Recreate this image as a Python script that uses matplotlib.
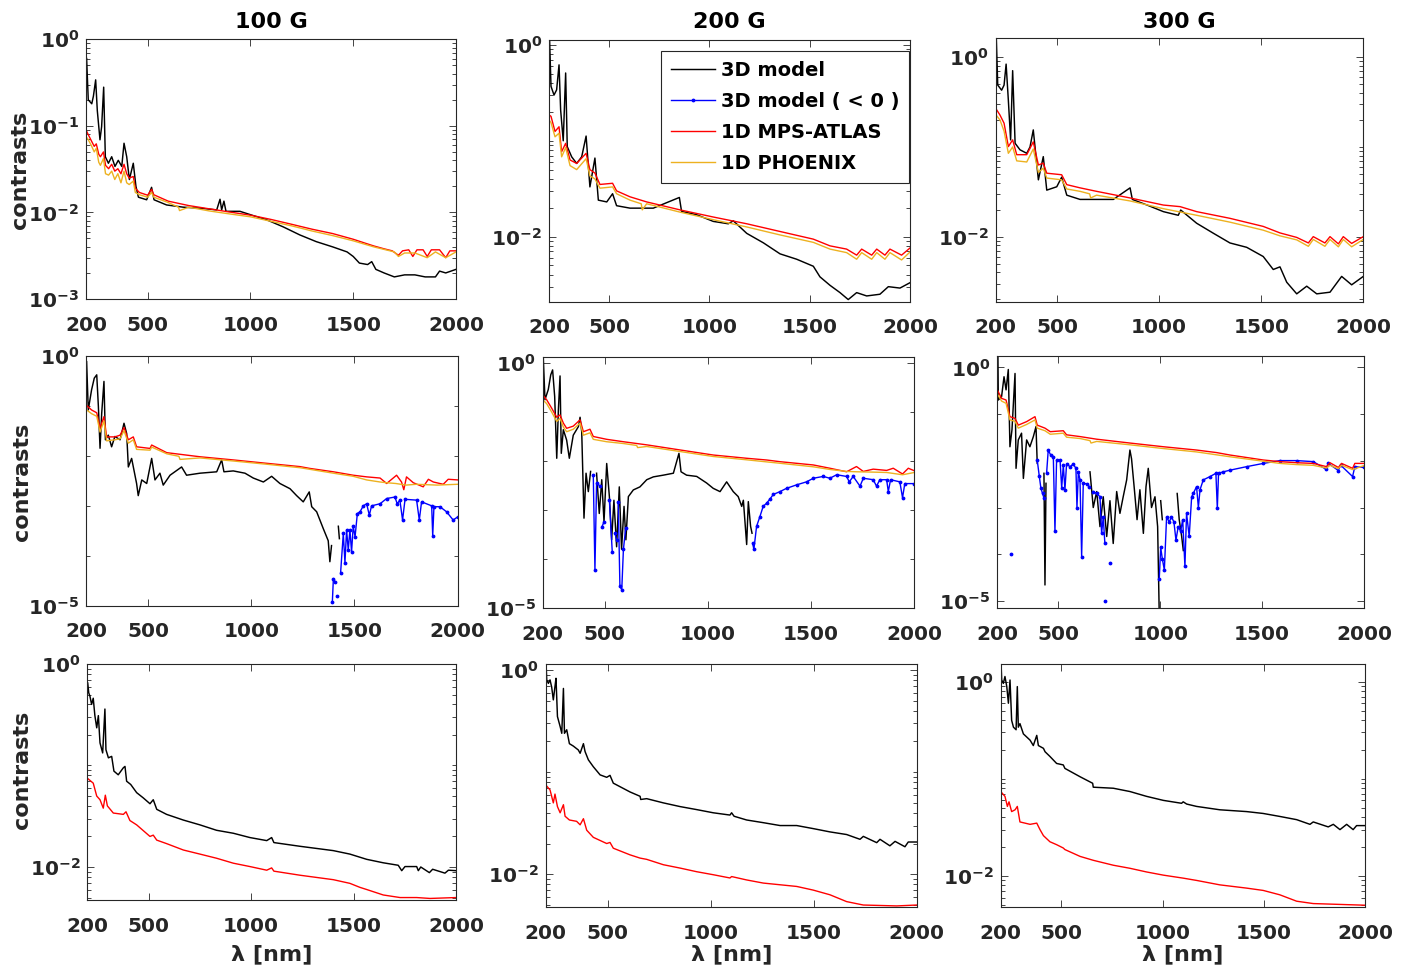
import numpy as np
import matplotlib
matplotlib.use("Agg")
import matplotlib.pyplot as plt
from matplotlib.lines import Line2D
from matplotlib.ticker import FixedLocator, FixedFormatter, LogLocator, NullFormatter

nan = np.nan

# ---- data: wavelength [nm] and contrast ----------------------------------
# row 1 (disc centre), 100 G
WL_1K = [203, 211, 228, 236, 247, 255, 268, 276, 286, 294, 309, 325, 341, 357, 374, 385, 398, 411, 430, 443,
         455, 495, 519, 531, 592, 673, 755, 836, 852, 860, 871, 881, 949, 1001, 1080, 1160, 1240, 1320, 1400, 1470,
         1500, 1530, 1570, 1590, 1610, 1650, 1700, 1750, 1800, 1850, 1900, 1920, 1950, 2000]
C_1K = [0.60, 0.20, 0.18, 0.22, 0.34, 0.15, 0.069, 0.098, 0.28, 0.044, 0.037, 0.044, 0.034, 0.040, 0.034, 0.063,
        0.044, 0.024, 0.037, 0.020, 0.015, 0.014, 0.0195, 0.014, 0.0122, 0.0115, 0.0112, 0.0107, 0.0142, 0.0107,
        0.0135, 0.0103, 0.0103, 0.0094, 0.0082, 0.0068, 0.0055, 0.0046, 0.0040, 0.0035, 0.0031, 0.0026, 0.0025,
        0.0027, 0.0022, 0.0020, 0.0018, 0.0019, 0.0019, 0.0018, 0.0018, 0.0021, 0.0020, 0.0022]
WL_1R = [200, 210, 225, 240, 250, 262, 270, 285, 295, 310, 325, 340, 355, 370, 385, 398, 410, 430, 440, 460,
         500, 519, 530, 600, 700, 800, 900, 1000, 1100, 1200, 1300, 1400, 1500, 1560, 1600, 1650, 1690, 1720, 1740,
         1770, 1790, 1810, 1840, 1860, 1880, 1920, 1950, 1970, 2000]
C_1R = [0.090, 0.080, 0.068, 0.058, 0.062, 0.047, 0.044, 0.050, 0.035, 0.032, 0.036, 0.030, 0.032, 0.028, 0.036,
        0.028, 0.025, 0.026, 0.019, 0.017, 0.0158, 0.0185, 0.016, 0.0135, 0.012, 0.011, 0.0101, 0.0093, 0.0083,
        0.0073, 0.0064, 0.0057, 0.0049, 0.0044, 0.0041, 0.0038, 0.0036, 0.0032, 0.0036, 0.0037, 0.0031, 0.0037,
        0.0037, 0.0031, 0.0037, 0.0037, 0.0030, 0.0036, 0.0036]
WL_1O = [200, 210, 225, 240, 250, 262, 270, 285, 295, 310, 325, 340, 355, 370, 385, 398, 410, 430, 440, 460,
         500, 519, 530, 600, 650, 655, 700, 800, 900, 1000, 1100, 1200, 1300, 1400, 1500, 1600, 1700, 1720, 1750,
         1800, 1860, 1900, 1950, 2000]
C_1O = [0.075, 0.070, 0.060, 0.050, 0.055, 0.038, 0.035, 0.042, 0.028, 0.027, 0.030, 0.024, 0.028, 0.022, 0.030,
        0.022, 0.021, 0.023, 0.017, 0.016, 0.015, 0.017, 0.015, 0.013, 0.0115, 0.0105, 0.0115, 0.0104, 0.0096,
        0.0089, 0.0079, 0.0070, 0.0061, 0.0054, 0.0047, 0.0040, 0.0035, 0.0031, 0.0034, 0.0034, 0.0030, 0.0035,
        0.0030, 0.0035]

# row 1, 200 G
WL_2K = [203, 210, 225, 238, 250, 258, 271, 283, 291, 313, 338, 363, 385, 404, 429, 446, 488, 517, 537, 604,
         720, 850, 861, 936, 1019, 1094, 1119, 1186, 1269, 1352, 1435, 1518, 1551, 1601, 1651, 1692, 1734, 1784,
         1850, 1892, 1950, 2000]
C_2K = [1.12, 0.37, 0.30, 0.34, 0.62, 0.21, 0.10, 0.51, 0.087, 0.068, 0.058, 0.068, 0.112, 0.033, 0.066, 0.024,
        0.023, 0.028, 0.021, 0.0198, 0.0198, 0.0256, 0.0183, 0.0169, 0.0144, 0.0136, 0.0146, 0.0108, 0.0086,
        0.0066, 0.0058, 0.0049, 0.0038, 0.0031, 0.0026, 0.0022, 0.0026, 0.0024, 0.0025, 0.0030, 0.0029, 0.0033]
WL_2R = [200, 210, 230, 250, 263, 283, 305, 338, 385, 404, 429, 454, 517, 537, 604, 687, 853, 1019, 1186, 1352,
         1518, 1601, 1684, 1734, 1759, 1809, 1834, 1875, 1900, 1958, 2000]
C_2R = [0.186, 0.18, 0.125, 0.14, 0.077, 0.094, 0.063, 0.058, 0.074, 0.050, 0.046, 0.035, 0.036, 0.030, 0.026,
        0.023, 0.019, 0.016, 0.0136, 0.0113, 0.0094, 0.0080, 0.0074, 0.0064, 0.0074, 0.0064, 0.0074, 0.0064,
        0.0074, 0.0064, 0.0076]
WL_2O = [200, 210, 230, 250, 263, 283, 305, 338, 385, 404, 429, 454, 517, 537, 604, 660, 665, 687, 853, 1019,
         1186, 1352, 1518, 1601, 1684, 1734, 1759, 1809, 1834, 1875, 1900, 1958, 2000]
C_2O = [0.165, 0.155, 0.11, 0.12, 0.068, 0.085, 0.055, 0.050, 0.065, 0.043, 0.040, 0.032, 0.033, 0.028, 0.024,
        0.022, 0.019, 0.022, 0.018, 0.015, 0.0126, 0.0104, 0.0087, 0.0074, 0.0068, 0.0058, 0.0068, 0.0058, 0.0068,
        0.0058, 0.0068, 0.0057, 0.0069]

# row 1, 300 G
WL_3K = [203, 210, 229, 241, 251, 262, 273, 283, 295, 319, 352, 368, 384, 409, 433, 450, 499, 523, 548, 613,
         776, 858, 869, 939, 1021, 1094, 1106, 1184, 1266, 1347, 1429, 1510, 1559, 1592, 1625, 1674, 1723, 1772,
         1837, 1894, 1943, 2000]
C_3K = [1.63, 0.49, 0.43, 0.49, 0.84, 0.33, 0.12, 0.71, 0.11, 0.093, 0.085, 0.10, 0.155, 0.043, 0.078, 0.033,
        0.036, 0.046, 0.029, 0.026, 0.026, 0.035, 0.026, 0.0226, 0.019, 0.0173, 0.0198, 0.0141, 0.0109, 0.0085,
        0.0076, 0.0060, 0.0043, 0.0046, 0.0031, 0.0023, 0.0028, 0.0023, 0.0024, 0.0036, 0.0029, 0.0036]
WL_3R = [200, 221, 241, 262, 283, 303, 352, 384, 409, 433, 450, 523, 548, 613, 694, 858, 1021, 1103, 1184, 1347,
         1510, 1592, 1674, 1731, 1755, 1812, 1837, 1878, 1902, 1943, 2000]
C_3R = [0.27, 0.227, 0.184, 0.101, 0.12, 0.082, 0.082, 0.114, 0.063, 0.066, 0.051, 0.049, 0.038, 0.035, 0.032,
        0.027, 0.0225, 0.0216, 0.019, 0.016, 0.013, 0.011, 0.0098, 0.0085, 0.010, 0.0085, 0.010, 0.0083, 0.010,
        0.0084, 0.010]
WL_3O = [200, 221, 241, 262, 283, 303, 352, 384, 409, 433, 450, 523, 548, 613, 660, 665, 694, 858, 1021, 1184,
         1347, 1510, 1592, 1674, 1731, 1755, 1812, 1837, 1878, 1902, 1943, 2000]
C_3O = [0.23, 0.20, 0.15, 0.085, 0.10, 0.070, 0.068, 0.095, 0.052, 0.058, 0.045, 0.043, 0.034, 0.032, 0.030,
        0.027, 0.029, 0.025, 0.0205, 0.0173, 0.0145, 0.0118, 0.0102, 0.0092, 0.0078, 0.0093, 0.0078, 0.0093,
        0.0077, 0.0093, 0.0077, 0.0093]

# row 2, 100 G  (blue = |negative contrast|)
WL_4K = [203, 211, 227, 240, 252, 260, 268, 276, 287, 294, 308, 324, 340, 365, 384, 397, 405, 421, 445, 453,
         470, 494, 518, 534, 558, 574, 607, 663, 687, 752, 833, 857, 868, 913, 970, 1010, 1059, 1099, 1139, 1188,
         1220, 1252, 1281, 1293, 1317, 1349, 1373, 1381, 1389, nan, 1422, 1427]
C_4K = [0.77, 0.083, 0.21, 0.36, 0.42, 0.097, 0.0142, 0.071, 0.31, 0.021, 0.026, 0.0152, 0.0245, 0.021, 0.045,
        0.028, 0.006, 0.0089, 0.0028, 0.0016, 0.0033, 0.0028, 0.0089, 0.0033, 0.0045, 0.0026, 0.0041, 0.006,
        0.0041, 0.0045, 0.0048, 0.0083, 0.0048, 0.005, 0.0045, 0.0036, 0.003, 0.0039, 0.0028, 0.0022, 0.0016,
        0.0012, 0.0019, 0.00096, 0.00076, 0.00035, 0.0002, 7.6e-5, 1.6e-4, nan, 3.9e-4, 2.2e-4]
WL_4B = [1393, 1398, 1406, nan, 1417, nan, 1433, 1446, 1454, 1462, 1470, 1478, 1486, 1494, 1503, 1514, 1527,
         1543, 1559, 1572, 1583, 1624, 1656, 1696, 1707, 1720, 1733, 1745, 1801, 1814, 1825, 1874, 1879, 1885,
         1914, 1946, 1978, 2000]
C_4B = [1.2e-5, 3.5e-5, 3.0e-5, nan, 1.6e-5, nan, 4.6e-5, 2.8e-4, 7.3e-5, 3.3e-4, 1.3e-4, 3.3e-4, 1.2e-4, 3.9e-4,
        2.4e-4, 7.0e-4, 7.6e-4, 1.0e-3, 1.1e-3, 6.5e-4, 1.0e-3, 1.1e-3, 1.4e-3, 1.5e-3, 1.1e-3, 1.3e-3, 5.2e-4,
        1.35e-3, 1.3e-3, 5.2e-4, 1.2e-3, 1.0e-3, 2.5e-4, 9.6e-4, 9.6e-4, 7.6e-4, 5.2e-4, 6.0e-4]
WL_4R = [200, 227, 252, 268, 287, 300, 340, 365, 384, 405, 429, 445, 510, 518, 591, 752, 913, 1075, 1236, 1285,
         1398, 1494, 1559, 1624, 1656, 1704, 1728, 1739, 1752, 1785, 1833, 1858, 1882, 1930, 1954, 2000]
C_4R = [0.105, 0.083, 0.073, 0.036, 0.061, 0.024, 0.024, 0.026, 0.037, 0.021, 0.024, 0.0152, 0.0141, 0.0165,
        0.0116, 0.0096, 0.0083, 0.0071, 0.0061, 0.0056, 0.0048, 0.0041, 0.0038, 0.0036, 0.0028, 0.0041, 0.0030,
        0.0021, 0.0038, 0.0029, 0.0024, 0.0034, 0.0030, 0.0027, 0.0034, 0.0033]
WL_4O = [200, 227, 252, 268, 287, 300, 340, 365, 384, 405, 429, 445, 510, 518, 591, 650, 655, 752, 913, 1075,
         1236, 1398, 1494, 1559, 1624, 1656, 1700, 1750, 1800, 1900, 2000]
C_4O = [0.085, 0.070, 0.062, 0.030, 0.050, 0.020, 0.021, 0.022, 0.032, 0.018, 0.021, 0.0135, 0.013, 0.015, 0.011,
        0.0098, 0.0085, 0.0091, 0.0079, 0.0068, 0.0058, 0.0045, 0.0039, 0.0033, 0.0030, 0.0029, 0.0028, 0.0026,
        0.0027, 0.0026, 0.0027]

# row 2, 200 G
WL_5K = [203, 211, 227, 239, 248, 258, 268, 276, 284, 290, 300, 316, 329, 348, 373, 381, 389, 400, 410, 421,
         432, nan, 461, 474, 486, 497, 510, 523, 534, 545, 558, 571, 582, 594, 603, 615, 639, 671, 704, 736,
         784, 833, 860, 870, 897, 946, 994, 1026, 1059, 1091, 1123, 1147, 1164, 1172, 1188, 1196, 1207, 1214]
C_5K = [1.26, 0.18, 0.29, 0.58, 0.73, 0.21, 0.0115, 0.112, 0.55, 0.0145, 0.044, 0.027, 0.0115, 0.034, 0.051,
        0.079, 0.040, 6.9e-4, 0.0057, 0.0024, 0.0062, nan, 0.0057, 8.6e-4, 0.0042, 5.8e-4, 0.009, 0.0019, 2.5e-4,
        0.0016, 1.8e-4, 0.0030, 1.6e-4, 0.0012, 2.5e-4, 0.0019, 0.0026, 0.0030, 0.0042, 0.0048, 0.0052, 0.0057,
        0.0145, 0.0061, 0.0052, 0.0049, 0.0036, 0.0028, 0.0024, 0.0038, 0.0024, 0.0019, 0.0012, 0.0016, 2.0e-4,
        0.0015, 4.7e-4, 3.4e-4]
WL_5B = [445, 453, 461, 478, nan, 487, 497, nan, 523, 537, nan, 550, 558, nan, 566, 574, 583, 591, 602, nan,
         1217, 1223, 1236, 1252, 1268, 1285, 1301, 1317, 1349, 1381, 1430, 1478, 1511, 1559, 1591, 1624, 1672,
         1685, 1704, 1737, 1753, 1801, 1817, 1833, 1866, 1874, 1885, 1930, 1943, 1954, 2000]
C_5B = [5.3e-3, 6.0e-5, 3.6e-3, 3.1e-3, nan, 4.6e-4, 5.8e-4, nan, 1.6e-3, 1.4e-4, nan, 3.4e-4, 2.5e-4, nan,
        1.5e-3, 2.8e-5, 2.4e-5, 1.6e-4, 4.3e-4, nan, 2.1e-4, 1.6e-4, 4.7e-4, 7.4e-4, 1.2e-3, 1.4e-3, 1.7e-3,
        2.1e-3, 2.4e-3, 2.8e-3, 3.3e-3, 3.8e-3, 4.5e-3, 4.9e-3, 4.5e-3, 5.3e-3, 4.9e-3, 3.8e-3, 4.9e-3, 3.1e-3,
        4.5e-3, 4.2e-3, 3.1e-3, 4.2e-3, 4.2e-3, 2.4e-3, 4.2e-3, 3.8e-3, 1.8e-3, 3.5e-3, 3.5e-3]
WL_5R = [200, 219, 244, 268, 284, 300, 316, 348, 381, 397, 429, 445, 510, 591, 704, 865, 1026, 1188, 1285, 1349,
         1511, 1591, 1672, 1720, 1753, 1801, 1866, 1898, 1943, 1971, 2000]
C_5R = [0.225, 0.18, 0.12, 0.079, 0.088, 0.060, 0.047, 0.052, 0.070, 0.040, 0.045, 0.032, 0.028, 0.025, 0.0216,
        0.017, 0.0134, 0.0115, 0.0106, 0.0098, 0.0084, 0.0072, 0.0061, 0.0078, 0.0062, 0.0069, 0.0065, 0.0072,
        0.0055, 0.0072, 0.0064]
WL_5O = [200, 219, 244, 268, 284, 300, 316, 348, 381, 397, 429, 445, 510, 591, 655, 660, 704, 865, 1026, 1188,
         1349, 1511, 1591, 1672, 1720, 1800, 1866, 1943, 2000]
C_5O = [0.18, 0.15, 0.10, 0.065, 0.075, 0.050, 0.040, 0.045, 0.060, 0.034, 0.038, 0.028, 0.025, 0.023, 0.021,
        0.019, 0.020, 0.0158, 0.0125, 0.0107, 0.0091, 0.0077, 0.0068, 0.0062, 0.0061, 0.0060, 0.0059, 0.0053,
        0.0059]

# row 2, 300 G
WL_6K = [203, 205, 221, 233, 243, 254, 262, 272, 287, 292, 303, 319, 328, 344, 360, 377, 390, 396, nan, 429,
         434, 439, nan, 655, 671, 688, 704, 720, 737, 753, 769, 786, 802, 818, 835, 851, 859, 873, 886, 900,
         917, 930, 941, 957, 974, 987, 995, nan, 1002, 1010, nan, 1083, 1093, 1105, 1113]
C_6K = [1.83, 0.20, 0.236, 0.63, 0.33, 0.90, 0.020, 0.046, 0.74, 0.0069, 0.028, 0.039, 0.0042, 0.028, 0.020,
        0.033, 0.054, 0.0088, nan, 5.4e-3, 2.2e-5, 3.3e-3, nan, 5.8e-3, 1.0e-3, 2.2e-3, 3.9e-4, 1.7e-3, 2.4e-4,
        1.4e-3, 1.7e-4, 2.2e-3, 7.5e-4, 1.7e-3, 3.9e-3, 0.017, 0.011, 2.4e-3, 5.5e-4, 2.4e-3, 2.8e-4, 2.8e-3,
        6.9e-3, 1.0e-3, 1.7e-3, 3.9e-4, 5e-6, nan, 1.4e-3, 5.5e-4, nan, 2.0e-3, 5.5e-4, 2.4e-4, 1.2e-4]
WL_6B = [267, nan, 396, 406, 414, 422, 429, nan, 442, 450, 462, 475, 483, 491, 508, 516, 524, 532, 540, 557,
         573, 586, 591, 598, 606, 614, 622, 638, 652, nan, 671, 688, 704, 712, 720, 728, nan, 728, nan, 753,
         nan, 995, 1002, 1010, 1020, 1031, 1044, 1055, 1067, 1077, 1088, 1100, 1110, 1121, 1129, 1142, 1154, 1162,
         1178, 1187, 1195, 1211, 1244, 1273, 1280, 1286, 1309, 1342, 1424, 1506, 1587, 1669, 1751, 1813, 1825,
         1874, 1885, 1944, 1955, 2000]
C_6B = [1.0e-4, nan, 0.0104, 4.7e-3, 2.6e-3, 2.0e-3, 1.6e-3, nan, 5.4e-3, 0.017, 0.0133, 0.0123, 3.1e-4, 0.0104,
        0.0104, 2.6e-3, 8.1e-3, 2.4e-3, 8.5e-3, 7.5e-3, 8.5e-3, 6.9e-3, 1.0e-3, 5.8e-3, 3.9e-3, 8.9e-5, 3.3e-3,
        3.2e-3, 2.8e-3, nan, 2.2e-3, 2.0e-3, 1.7e-3, 2.8e-4, 6.3e-4, 1.7e-4, nan, 1.0e-5, nan, 6.4e-5, nan,
        3.0e-5, 1.4e-4, 8.0e-5, 4.6e-5, 6.3e-4, 4.9e-4, 6.3e-4, 4.9e-4, 2.0e-4, 3.9e-4, 3.1e-4, 5.5e-4, 5.5e-5,
        7.5e-4, 2.4e-4, 1.7e-3, 2.0e-3, 2.8e-3, 1.0e-3, 2.4e-3, 3.9e-3, 4.6e-3, 5.4e-3, 9.6e-4, 5.4e-3, 5.8e-3,
        6.3e-3, 7.5e-3, 8.8e-3, 0.0101, 0.0101, 9.6e-3, 6.6e-3, 8.8e-3, 6.2e-3, 8.1e-3, 4.6e-3, 7.5e-3, 7.2e-3]
WL_6R = [200, 221, 243, 262, 287, 303, 344, 385, 396, 434, 460, 524, 540, 606, 688, 851, 1015, 1178, 1276, 1342,
         1506, 1587, 1669, 1751, 1816, 1833, 1874, 1890, 1944, 1955, 2000]
C_6R = [0.33, 0.217, 0.20, 0.088, 0.081, 0.058, 0.069, 0.088, 0.058, 0.050, 0.042, 0.044, 0.036, 0.033, 0.029,
        0.024, 0.020, 0.017, 0.015, 0.0133, 0.0104, 0.0096, 0.0091, 0.0088, 0.0075, 0.0091, 0.0072, 0.0088,
        0.0069, 0.0088, 0.0088]
WL_6O = [200, 221, 243, 262, 287, 303, 344, 385, 396, 434, 460, 524, 540, 606, 655, 660, 688, 851, 1015, 1178,
         1342, 1506, 1587, 1669, 1751, 1816, 1833, 1874, 1890, 1944, 2000]
C_6O = [0.27, 0.19, 0.17, 0.075, 0.070, 0.050, 0.060, 0.075, 0.050, 0.044, 0.037, 0.039, 0.032, 0.030, 0.027,
        0.024, 0.026, 0.022, 0.0183, 0.0155, 0.0122, 0.0098, 0.0088, 0.0083, 0.0080, 0.0070, 0.0080, 0.0068,
        0.0080, 0.0065, 0.0079]

# row 3, 100 G
WL_7K = [202, 207, 213, 221, 229, 237, 246, 254, 262, 275, 286, 291, 303, 319, 330, 351, 376, 384, 392, 412,
         441, 473, 506, 522, 539, 587, 669, 750, 831, 913, 994, 1076, 1100, 1111, 1238, 1401, 1482, 1564, 1645,
         1718, 1735, 1751, 1808, 1816, 1828, 1870, 1886, 1946, 1963, 2000]
C_7K = [0.65, 0.52, 0.48, 0.40, 0.46, 0.31, 0.235, 0.31, 0.167, 0.133, 0.36, 0.143, 0.119, 0.123, 0.088, 0.081,
        0.095, 0.098, 0.070, 0.065, 0.054, 0.048, 0.042, 0.046, 0.037, 0.033, 0.029, 0.026, 0.023, 0.0215, 0.0195,
        0.0182, 0.0195, 0.0174, 0.016, 0.0145, 0.0134, 0.0119, 0.011, 0.0104, 0.0092, 0.0101, 0.0101, 0.0092,
        0.010, 0.0088, 0.0095, 0.0087, 0.0093, 0.0092]
WL_7R = [200, 229, 246, 262, 278, 288, 298, 327, 376, 389, 408, 441, 506, 522, 539, 587, 669, 750, 831, 913,
         994, 1076, 1100, 1111, 1238, 1401, 1482, 1531, 1564, 1645, 1727, 1808, 1873, 2000]
C_7R = [0.075, 0.067, 0.050, 0.046, 0.038, 0.051, 0.040, 0.034, 0.033, 0.035, 0.0287, 0.026, 0.020, 0.0206,
        0.0184, 0.017, 0.0147, 0.0134, 0.0122, 0.0109, 0.0101, 0.0093, 0.0098, 0.0091, 0.0083, 0.0075, 0.0069,
        0.0063, 0.0060, 0.0053, 0.0050, 0.0050, 0.0049, 0.0050]

# row 3, 200 G
WL_8K = [202, 205, 213, 221, 229, 237, 245, 250, 257, 270, 278, 286, 291, 302, 315, 334, 358, 367, 383, 391,
         407, 431, 464, 496, 512, 528, 609, 658, 661, 690, 771, 852, 932, 1013, 1094, 1102, 1114, 1175, 1256, 1337,
         1418, 1498, 1579, 1660, 1725, 1741, 1806, 1822, 1870, 1895, 1943, 1959, 2000]
C_8K = [1.12, 0.80, 0.74, 0.80, 0.68, 0.51, 0.69, 0.83, 0.35, 0.28, 0.24, 0.66, 0.24, 0.26, 0.19, 0.18, 0.165,
        0.153, 0.19, 0.159, 0.132, 0.113, 0.094, 0.089, 0.093, 0.078, 0.064, 0.058, 0.054, 0.055, 0.050, 0.046,
        0.043, 0.040, 0.038, 0.040, 0.037, 0.034, 0.032, 0.030, 0.030, 0.028, 0.026, 0.0245, 0.022, 0.0235,
        0.0204, 0.022, 0.019, 0.021, 0.0186, 0.0207, 0.0207]
WL_8R = [200, 221, 237, 245, 257, 270, 286, 294, 315, 350, 367, 383, 399, 431, 496, 512, 528, 609, 658, 690,
         771, 852, 932, 1013, 1094, 1102, 1175, 1256, 1418, 1498, 1579, 1660, 1741, 1903, 2000]
C_8R = [0.075, 0.067, 0.050, 0.061, 0.046, 0.040, 0.048, 0.037, 0.034, 0.033, 0.0305, 0.035, 0.027, 0.023, 0.020,
        0.0205, 0.018, 0.0155, 0.0144, 0.014, 0.0124, 0.0115, 0.0106, 0.0099, 0.0092, 0.0095, 0.0088, 0.0082,
        0.0076, 0.0070, 0.0063, 0.0054, 0.0050, 0.0049, 0.0050]

# row 3, 300 G
WL_9K = [202, 205, 213, 221, 230, 238, 246, 254, 263, 276, 282, 287, 295, 312, 345, 361, 378, 386, 411, 419,
         443, 476, 509, 517, 592, 654, 657, 756, 838, 920, 1003, 1093, 1101, 1118, 1167, 1282, 1414, 1496, 1578,
         1661, 1727, 1743, 1817, 1842, 1875, 1908, 1940, 1957, 2000]
C_9K = [1.48, 1.04, 0.96, 1.13, 0.89, 0.60, 1.04, 0.40, 0.34, 0.32, 0.89, 0.34, 0.37, 0.29, 0.25, 0.22, 0.28,
        0.22, 0.206, 0.19, 0.17, 0.144, 0.139, 0.128, 0.105, 0.090, 0.082, 0.080, 0.074, 0.066, 0.060, 0.056,
        0.058, 0.055, 0.052, 0.048, 0.046, 0.044, 0.041, 0.038, 0.034, 0.036, 0.032, 0.034, 0.030, 0.034, 0.030,
        0.033, 0.033]
WL_9R = [200, 221, 233, 241, 254, 271, 282, 295, 345, 378, 394, 411, 443, 476, 509, 517, 592, 657, 756, 838,
         920, 1003, 1101, 1167, 1282, 1414, 1496, 1578, 1661, 1743, 2000]
C_9R = [0.074, 0.066, 0.052, 0.058, 0.046, 0.048, 0.052, 0.036, 0.034, 0.035, 0.030, 0.026, 0.0225, 0.021,
        0.0194, 0.0187, 0.0159, 0.0145, 0.0129, 0.012, 0.011, 0.0102, 0.0095, 0.0090, 0.0081, 0.0075, 0.0071,
        0.0064, 0.0055, 0.0052, 0.0050]

TITLES = ["100 G", "200 G", "300 G"]
LEGEND_LABELS = ["3D model", "3D model ( < 0 )", "1D MPS-ATLAS", "1D PHOENIX"]
X_TICKS = [200, 500, 1000, 1500, 2000]

# y limits and labelled decades for each panel
YLIMS = [(1e-3, 1.0), (2.09e-3, 1.127), (1.88e-3, 1.63),
         (1e-5, 1.0), (1e-5, 1.32), (6.97e-6, 1.75),
         (4.73e-3, 1.0), (4.75e-3, 1.145), (4.76e-3, 1.52)]
Y_MAJOR = [[1e-3, 1e-2, 1e-1, 1e0], [1e-2, 1e0], [1e-2, 1e0],
           [1e-5, 1e0], [1e-5, 1e0], [1e-5, 1e0],
           [1e-2, 1e0], [1e-2, 1e0], [1e-2, 1e0]]
Y_LABELS = [[r"$10^{-3}$", r"$10^{-2}$", r"$10^{-1}$", r"$10^{0}$"],
            [r"$10^{-2}$", r"$10^{0}$"], [r"$10^{-2}$", r"$10^{0}$"],
            [r"$10^{-5}$", r"$10^{0}$"], [r"$10^{-5}$", r"$10^{0}$"], [r"$10^{-5}$", r"$10^{0}$"],
            [r"$10^{-2}$", r"$10^{0}$"], [r"$10^{-2}$", r"$10^{0}$"], [r"$10^{-2}$", r"$10^{0}$"]]
ROW2_DECADES = [1e-4, 1e-3, 1e-2, 1e-1]

CURVES = [
    [("k", WL_1K, C_1K), ("r", WL_1R, C_1R), ("o", WL_1O, C_1O)],
    [("k", WL_2K, C_2K), ("r", WL_2R, C_2R), ("o", WL_2O, C_2O)],
    [("k", WL_3K, C_3K), ("r", WL_3R, C_3R), ("o", WL_3O, C_3O)],
    [("k", WL_4K, C_4K), ("b", WL_4B, C_4B), ("r", WL_4R, C_4R), ("o", WL_4O, C_4O)],
    [("k", WL_5K, C_5K), ("b", WL_5B, C_5B), ("r", WL_5R, C_5R), ("o", WL_5O, C_5O)],
    [("k", WL_6K, C_6K), ("b", WL_6B, C_6B), ("r", WL_6R, C_6R), ("o", WL_6O, C_6O)],
    [("k", WL_7K, C_7K), ("r", WL_7R, C_7R)],
    [("k", WL_8K, C_8K), ("r", WL_8R, C_8R)],
    [("k", WL_9K, C_9K), ("r", WL_9R, C_9R)],
]

# ---- layout / style -------------------------------------------------------
W, H = 1407, 971
# axes boxes in pixels: left, top, right, bottom
BOXES = [(86, 39.3, 456, 299), (549, 40, 910, 301.7), (995.7, 38.3, 1363.3, 301.7),
         (86, 356, 457.7, 605.7), (542.7, 357.3, 914.3, 608.3), (997.3, 356, 1364, 608.3),
         (87.3, 664, 456, 900), (545.7, 664, 916.7, 907.3), (1000.7, 664, 1365.3, 907.3)]
STYLE = {
    "k": dict(color="black", lw=1.05),
    "b": dict(color="#0000FF", lw=1.0, marker=".", ms=3.5),
    "r": dict(color="#FF0000", lw=1.0),
    "o": dict(color="#EDB120", lw=1.0),
}
GREY = "#262626"

plt.rcParams["font.family"] = ["DejaVu Sans"]
plt.rcParams["font.weight"] = "bold"
plt.rcParams["mathtext.default"] = "bf"

fig = plt.figure(figsize=(W / 100, H / 100), dpi=100)
axes = []
for i, (l, t, r, b) in enumerate(BOXES):
    ax = fig.add_axes([l / W, 1 - b / H, (r - l) / W, (b - t) / H])
    axes.append(ax)
    for key, wl, c in CURVES[i]:
        ax.plot(wl, c, **STYLE[key])
    ax.set_yscale("log")
    ax.set_xlim(200, 2000)
    ax.set_ylim(*YLIMS[i])
    ax.set_xticks(X_TICKS)
    ax.set_xticklabels([str(v) for v in X_TICKS])
    ax.yaxis.set_major_locator(FixedLocator(Y_MAJOR[i]))
    ax.yaxis.set_major_formatter(FixedFormatter(Y_LABELS[i]))
    if 3 <= i <= 5:
        ax.yaxis.set_minor_locator(FixedLocator(ROW2_DECADES))
    else:
        ax.yaxis.set_minor_locator(LogLocator(base=10, subs=np.arange(1, 10), numticks=30))
    ax.yaxis.set_minor_formatter(NullFormatter())
    ax.tick_params(which="both", direction="in", top=True, right=True, colors=GREY,
                   labelsize=14.5, width=0.6)
    ax.tick_params(axis="x", which="major", length=5, pad=12)
    ax.tick_params(axis="y", which="major", length=5, pad=5)
    ax.tick_params(axis="y", which="minor", length=3)
    for sp in ax.spines.values():
        sp.set_color(GREY)
        sp.set_linewidth(0.8)

# titles, axis labels
for j in range(3):
    l, t, r, b = BOXES[j]
    fig.text((l + r) / 2 / W, 1 - 22 / H, TITLES[j], ha="center", va="center",
             fontsize=16, fontweight="bold", color="black")
    l, t, r, b = BOXES[6 + j]
    fig.text((l + r) / 2 / W, 1 - 954 / H, "λ [nm]", ha="center", va="center",
             fontsize=16, fontweight="bold", color=GREY)
for xp, yp in [(20, 170), (22, 482), (22, 770)]:
    fig.text(xp / W, 1 - yp / H, "contrasts", rotation=90, ha="center", va="center",
             fontsize=16, fontweight="bold", color=GREY)

# legend in the 200 G top panel
handles = [Line2D([], [], **STYLE[k]) for k in ["k", "b", "r", "o"]]
leg = axes[1].legend(handles, LEGEND_LABELS, loc="upper left", bbox_to_anchor=(0.310, 0.958),
                     borderaxespad=0, frameon=True, fancybox=False, framealpha=1,
                     edgecolor=GREY, prop=dict(weight="bold", size=14),
                     handlelength=2.3, handletextpad=0.3, labelspacing=0.62, borderpad=0.5,
                     numpoints=1)
leg.get_frame().set_linewidth(0.8)

fig.savefig("out.png", dpi=100)
